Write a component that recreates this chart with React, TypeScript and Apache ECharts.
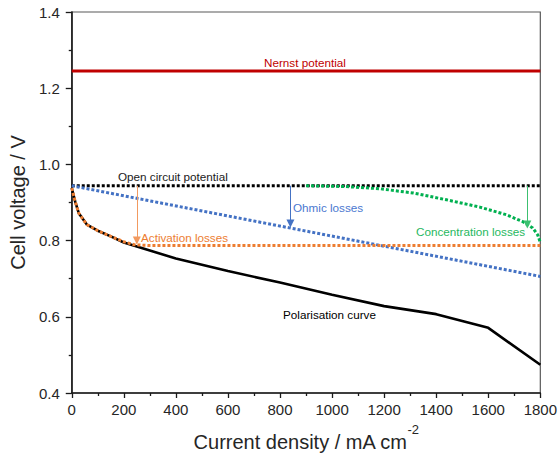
import { useEffect, useRef } from 'react';
import * as echarts from 'echarts';

// Values
const xTicks = [0, 200, 400, 600, 800, 1000, 1200, 1400, 1600, 1800];
const yTicks = [0.4, 0.6, 0.8, 1.0, 1.2, 1.4];

const nernst: [number, number][] = [[0, 1.245], [1800, 1.245]];
const openCircuit: [number, number][] = [[0, 0.944], [1800, 0.944]];
const ohmic: [number, number][] = [[0, 0.944], [1800, 0.706]];
const activation: [number, number][] = [
  [0, 0.938], [13, 0.903], [27, 0.872], [58, 0.842], [100, 0.826], [150, 0.811],
  [200, 0.797], [240, 0.789], [300, 0.787], [1800, 0.787],
];
const concentration: [number, number][] = [
  [900, 0.944], [1050, 0.942], [1185, 0.936], [1312, 0.925], [1440, 0.907],
  [1567, 0.888], [1669, 0.868], [1732, 0.85], [1771, 0.833], [1790, 0.815], [1800, 0.795],
];
const polarisation: [number, number][] = [
  [0, 0.938], [13, 0.903], [27, 0.872], [58, 0.842], [100, 0.826], [150, 0.811],
  [200, 0.795], [400, 0.753], [600, 0.72], [800, 0.69], [1000, 0.658], [1200, 0.628],
  [1400, 0.607], [1600, 0.571], [1800, 0.474],
];
// arrows: x position, start voltage, end voltage
const arrowActivation = [250, 0.944, 0.8];
const arrowOhmic = [840, 0.944, 0.845];
const arrowConcentration = [1750, 0.944, 0.842];

const FONT = '"Liberation Sans", Arial, sans-serif';
const RED = '#c00000';
const BLUE = '#4472c4';
const ORANGE = '#ed7d31';
const GREEN = '#00b050';

function arrowLine(a: number[], lineColor: string) {
  return {
    silent: true,
    symbol: ['none', 'triangle'],
    symbolSize: [8, 8],
    label: { show: false },
    lineStyle: { color: lineColor, width: 1, type: 'solid' },
    data: [[{ coord: [a[0], a[1]] }, { coord: [a[0], a[2]] }]],
  };
}

export default function App() {
  const ref = useRef<HTMLDivElement>(null);
  useEffect(() => {
    if (!ref.current) return;
    const chart = echarts.init(ref.current, null, { renderer: 'svg' });
    const dotted = (color: string) => ({ color, width: 3, type: [3, 2] as number[], cap: 'butt' });
    chart.setOption({
      animation: false,
      textStyle: { fontFamily: FONT },
      grid: {
        left: 70, right: 19, top: 12, bottom: 65,
        show: true, borderColor: '#595959', borderWidth: 1.2,
      },
      xAxis: {
        type: 'value', min: xTicks[0], max: xTicks[xTicks.length - 1], interval: 200,
        axisLine: { show: true, lineStyle: { color: '#1a1a1a', width: 1.6 } },
        axisTick: { show: true, inside: false, length: 5, lineStyle: { color: '#1a1a1a', width: 1.3 } },
        minorTick: { show: true, splitNumber: 2, length: 3, lineStyle: { color: '#1a1a1a', width: 1.3 } },
        splitLine: { show: false },
        axisLabel: {
          color: '#262626', fontSize: 15, margin: 9, fontFamily: FONT,
          formatter: (v: number) => String(v),
        },
        name: '{a|Current density / mA cm}{s|-2}',
        nameLocation: 'middle',
        nameGap: 30,
        nameTextStyle: {
          color: '#262626', fontFamily: FONT,
          rich: {
            a: { fontSize: 20, lineHeight: 38, color: '#262626', fontFamily: FONT },
            s: { fontSize: 13, lineHeight: 13, verticalAlign: 'top', color: '#262626', fontFamily: FONT },
          },
        },
      },
      yAxis: {
        type: 'value', min: yTicks[0], max: yTicks[yTicks.length - 1], interval: 0.2,
        axisLine: { show: true, lineStyle: { color: '#1a1a1a', width: 1.6 } },
        axisTick: { show: true, inside: false, length: 6, lineStyle: { color: '#1a1a1a', width: 1.3 } },
        minorTick: { show: true, splitNumber: 2, length: 3, lineStyle: { color: '#1a1a1a', width: 1.3 } },
        splitLine: { show: false },
        axisLabel: {
          color: '#262626', fontSize: 15, margin: 12, fontFamily: FONT,
          formatter: (v: number) => v.toFixed(1),
        },
        name: 'Cell voltage / V',
        nameLocation: 'middle',
        nameGap: 38,
        nameTextStyle: { color: '#262626', fontSize: 20, fontFamily: FONT },
      },
      series: [
        {
          type: 'line', name: 'Nernst potential', data: nernst, symbol: 'none',
          lineStyle: { color: RED, width: 3 },
        },
        {
          type: 'line', name: 'Polarisation curve', data: polarisation, symbol: 'none',
          lineStyle: { color: '#000', width: 2.6 },
        },
        {
          type: 'line', name: 'Open circuit potential', data: openCircuit, symbol: 'none',
          lineStyle: dotted('#000'),
        },
        {
          type: 'line', name: 'Ohmic losses', data: ohmic, symbol: 'none',
          lineStyle: dotted(BLUE),
          markLine: arrowLine(arrowOhmic, BLUE),
        },
        {
          type: 'line', name: 'Activation losses', data: activation, symbol: 'none',
          lineStyle: dotted(ORANGE),
          markLine: arrowLine(arrowActivation, '#f29a60'),
        },
        {
          type: 'line', name: 'Concentration losses', data: concentration, symbol: 'none',
          lineStyle: dotted(GREEN),
          markLine: arrowLine(arrowConcentration, '#3cc070'),
        },
      ],
      graphic: [
        { type: 'text', left: 264, top: 56, style: { text: 'Nernst potential', fill: RED, font: `11.7px ${FONT}` } },
        { type: 'text', left: 118, top: 170, style: { text: 'Open circuit potential', fill: '#1a1a1a', font: `11.7px ${FONT}` } },
        { type: 'text', left: 293, top: 201, style: { text: 'Ohmic losses', fill: '#4a78d0', font: `11.7px ${FONT}` } },
        { type: 'text', left: 141, top: 231, style: { text: 'Activation losses', fill: ORANGE, font: `11.7px ${FONT}` } },
        { type: 'text', left: 416, top: 225, style: { text: 'Concentration losses', fill: '#1fb860', font: `11.7px ${FONT}` } },
        { type: 'text', left: 283, top: 308, style: { text: 'Polarisation curve', fill: '#000', font: `11.7px ${FONT}` } },
      ],
    });
    return () => chart.dispose();
  }, []);
  return <div ref={ref} style={{ width: 560, height: 458, position: 'absolute', left: 0, top: 0 }} />;
}
